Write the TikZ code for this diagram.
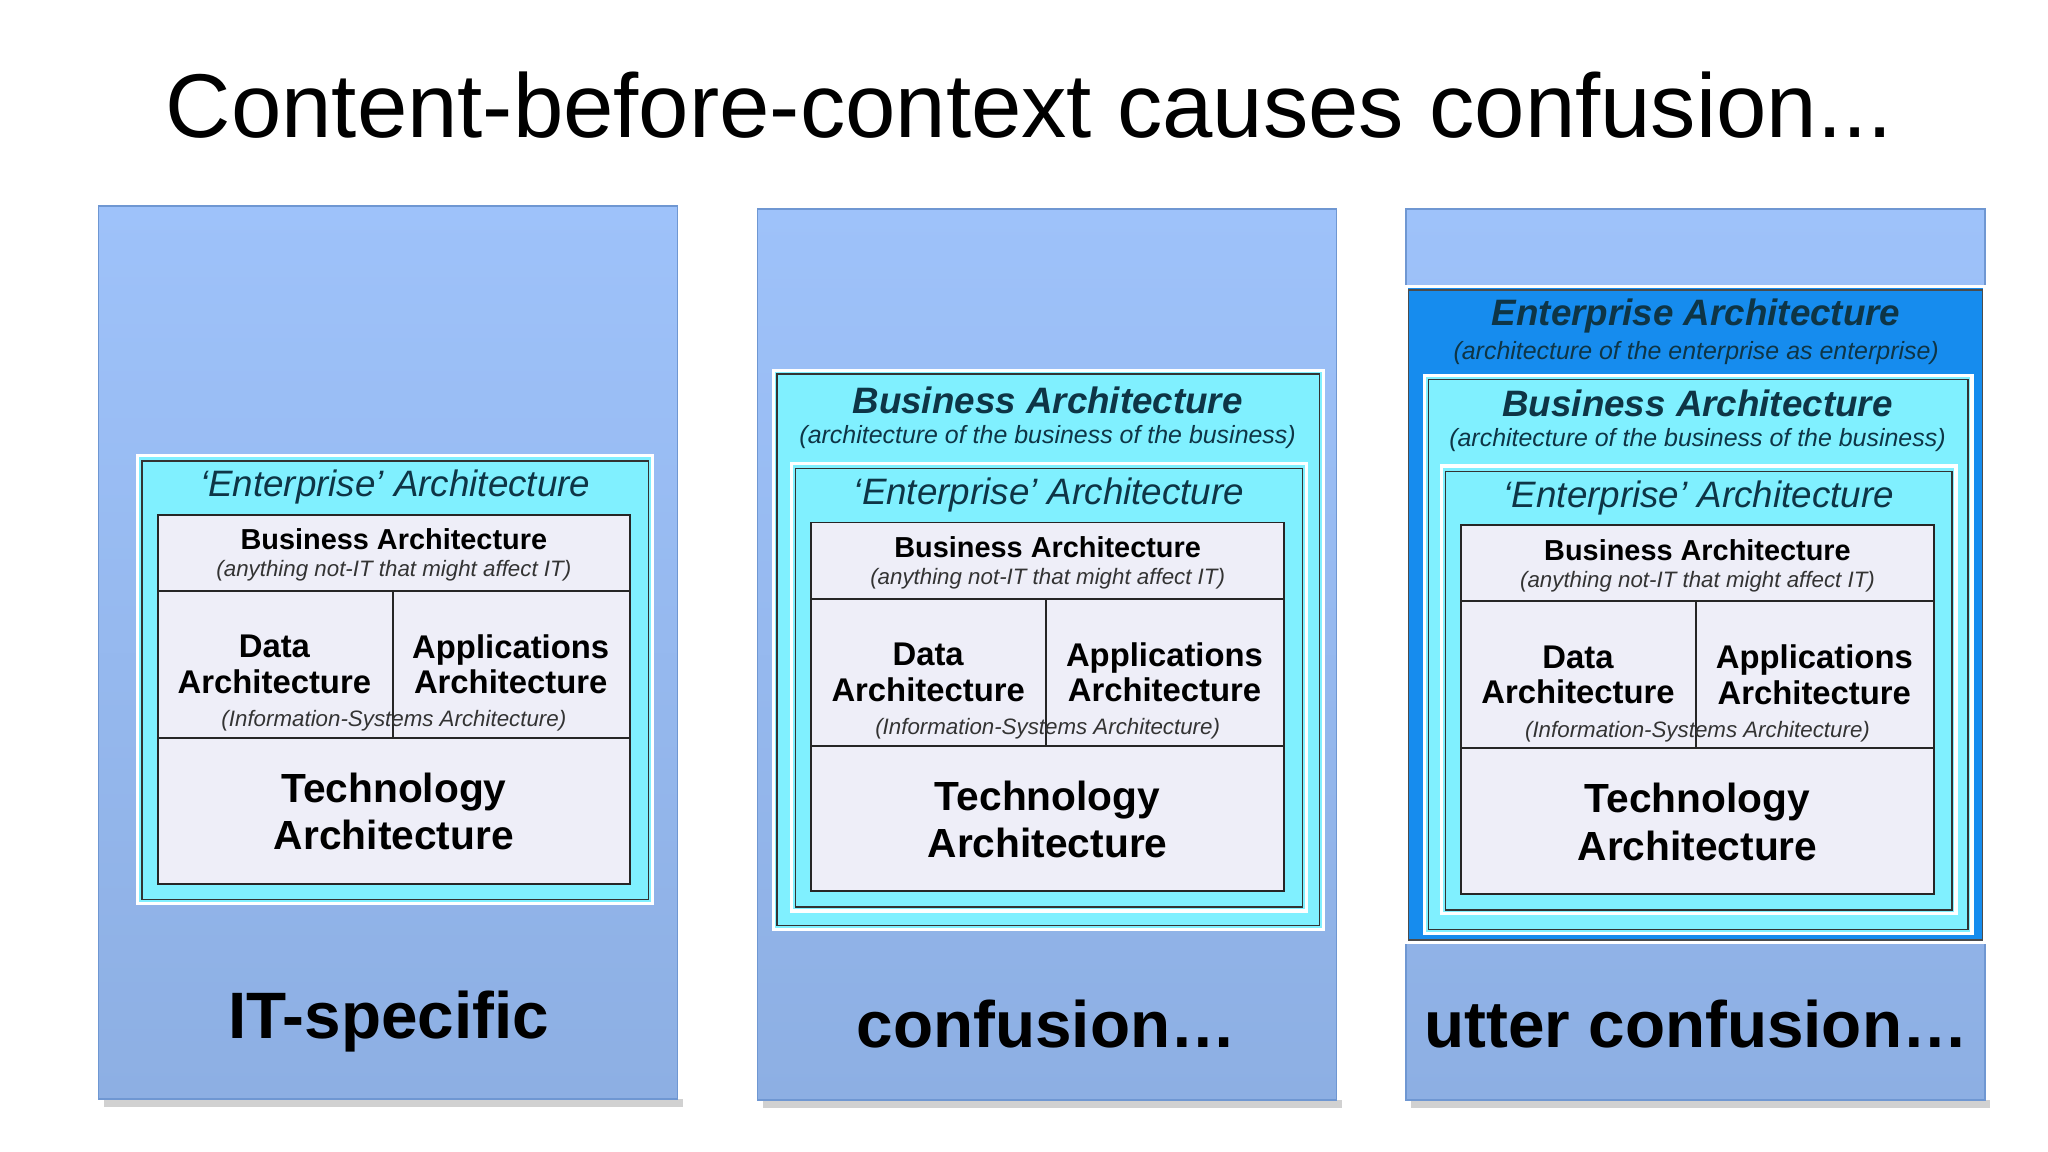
\documentclass[tikz,border=0pt]{standalone}
\usepackage{fontspec}
\setmainfont{Liberation Sans}
\begin{document}
\definecolor{pt}{HTML}{9EC2FA}
\definecolor{pb}{HTML}{8DAFE3}
\definecolor{pe}{HTML}{6F97D2}
\definecolor{cy}{HTML}{80F0FF}
\definecolor{tb}{HTML}{EEEEF8}
\definecolor{eb}{HTML}{168CEE}
\definecolor{tt}{HTML}{0E3546}
\tikzset{
 panel/.style={draw=pe,line width=1.2pt,top color=pt,bottom color=pb},
 shadow/.style={fill=black!18},
 cyanbox/.style={draw=white,line width=2.5pt,fill=cy},
 inline/.style={draw=black!80,line width=1.2pt},
 cell/.style={draw=black!85,line width=1.5pt,fill=tb},
 hd/.style={font=\fontsize{28}{30}\selectfont\itshape,text=tt},
 bhd/.style={font=\fontsize{28}{30}\selectfont\bfseries\itshape,text=tt},
 sub/.style={font=\fontsize{19}{22}\selectfont\itshape,text=tt},
 bb/.style={font=\fontsize{22}{24}\selectfont\bfseries},
 sm/.style={font=\fontsize{17}{19}\selectfont\itshape,text=black!80},
 mid/.style={font=\fontsize{25}{27}\selectfont\bfseries,align=center},
 big/.style={font=\fontsize{31}{36}\selectfont\bfseries,align=center},
 lab/.style={font=\fontsize{50}{55}\selectfont\bfseries},
}
\newcommand{\entbox}[3]{%
 \begin{scope}[shift={(#2,#3)}]
  \draw[cyanbox] (105,347) rectangle (497,688);
  \draw[inline] (108,351) rectangle (494,685);
  \node[hd] (#1t) at (301,371) {‘Enterprise’ Architecture};
  \draw[cell] (120,392) rectangle (480,450);
  \draw[cell] (120,450) rectangle (299,562);
  \draw[cell] (299,450) rectangle (480,562);
  \draw[cell] (120,562) rectangle (480,673);
  \node[bb] (#1b) at (300,411) {Business Architecture};
  \node[sm] (#1bs) at (300,435) {(anything not-IT that might affect IT)};
  \node[mid] (#1d) at (209,506) {Data\\Architecture};
  \node[mid] (#1a) at (389,506) {Applications\\Architecture};
  \node[sm] (#1is) at (300,549) {(Information-Systems Architecture)};
  \node[big] (#1te) at (300,618) {Technology\\Architecture};
 \end{scope}}
\begin{tikzpicture}[x=1pt,y=-1pt]
\useasboundingbox[fill=white] (0,0) rectangle (1560,877.5);
\node[font=\fontsize{69}{76}\selectfont] (title) at (784,80) {Content-before-context causes confusion...};
% panel 1
\fill[shadow] (79,837) rectangle (520,843);
\draw[panel] (75,157) rectangle (516,837);
\entbox{p}{0}{0}
\node[lab] (l1) at (296,778) {IT-specific};
% panel 2
\fill[shadow] (581,838) rectangle (1022,844);
\draw[panel] (577,159) rectangle (1018,838);
\draw[cyanbox] (589,282) rectangle (1008,708);
\draw[inline] (592,285) rectangle (1005,705);
\node[bhd] (q0) at (798,305) {Business Architecture};
\node[sub] (q0s) at (798,333) {(architecture of the business of the business)};
\entbox{q}{498}{6}
\node[lab] (l2) at (797,780) {confusion…};
% panel 3
\fill[shadow] (1075,838) rectangle (1516,844);
\draw[panel] (1071,159) rectangle (1512,838);
\draw[draw=white,line width=2.5pt,fill=eb] (1071,218) rectangle (1512,718);
\draw[draw=black!70,line width=1pt] (1073,221) rectangle (1510,716);
\node[bhd] (r1) at (1292,241) {Enterprise Architecture};
\node[sub] (r1s) at (1292,269) {(architecture of the enterprise as enterprise)};
\draw[cyanbox] (1085,286) rectangle (1502,711);
\draw[inline] (1088,289) rectangle (1499,708);
\node[bhd] (r0) at (1293,307) {Business Architecture};
\node[sub] (r0s) at (1293,335) {(architecture of the business of the business)};
\entbox{r}{993}{8}
\node[lab] (l3) at (1292,780) {utter confusion…};
\end{tikzpicture}
\end{document}
